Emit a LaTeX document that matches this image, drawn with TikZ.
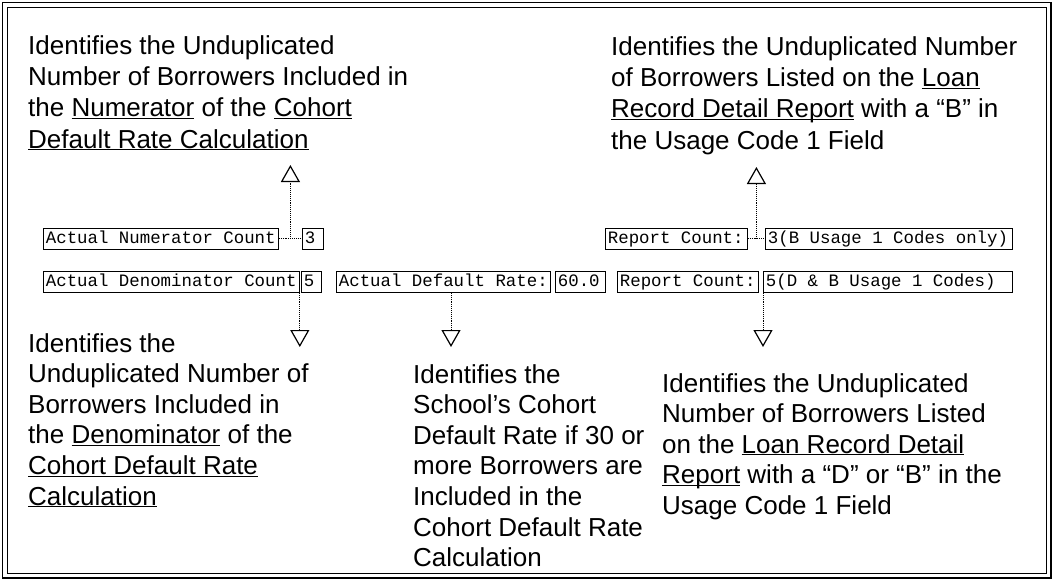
\documentclass[tikz,border=0pt]{standalone}
\usepackage{fontspec}
\setmainfont{Liberation Sans}
\newfontfamily\monof[WordSpace={1,0,0}]{Liberation Mono}
\usetikzlibrary{arrows.meta,calc}
\newcommand{\ulx}[1]{\underline{\smash{#1}}}
\begin{document}
\begin{tikzpicture}[x=1pt,y=-1pt,
  note/.style={anchor=north west, inner sep=0pt, align=left, font=\fontsize{26}{31.4}\selectfont},
  noteb/.style={anchor=north west, inner sep=0pt, align=left, font=\fontsize{26}{30.6}\selectfont},
  field/.style={draw, line width=0.8pt, anchor=west, inner xsep=2.5pt, inner ysep=0pt,
    minimum height=21pt, text height=12pt, text depth=3pt,
    font=\monof\fontsize{17.4}{20}\selectfont, align=left, text width=#1,
    execute at begin node={\spaceskip=10.44pt\relax}},
  conn/.style={densely dotted, line width=0.9pt},
  tipup/.style={-{Triangle[open, length=17pt, width=19pt, line width=1.2pt]}}
]
\useasboundingbox (0,0) rectangle (1054,582);
\fill[white] (0,0) rectangle (1054,582);
% frame
\draw[line width=1.2pt] (2.5,2.5) rectangle (1051,578);
\draw[line width=1pt] (7,7) rectangle (1046,573);

% notes
\node[note] (tl) at (28,35) {Identifies the Unduplicated\\Number of Borrowers Included in\\the \ulx{Numerator} of the \ulx{Cohort}\\\ulx{Default Rate Calculation}};
\node[note] (tr) at (611,36) {Identifies the Unduplicated Number\\of Borrowers Listed on the \ulx{Loan}\\\ulx{Record Detail Report} with a “B” in\\the Usage Code 1 Field};
\node[noteb] (bl) at (28,333) {Identifies the\\Unduplicated Number of\\Borrowers Included in\\the \ulx{Denominator} of the\\\ulx{Cohort Default Rate}\\\ulx{Calculation}};
\node[noteb] (bm) at (413,364) {Identifies the\\School’s Cohort\\Default Rate if 30 or\\more Borrowers are\\Included in the\\Cohort Default Rate\\Calculation};
\node[noteb] (br) at (662,373) {Identifies the Unduplicated\\Number of Borrowers Listed\\on the \ulx{Loan Record Detail}\\\ulx{Report} with a “D” or “B” in the\\Usage Code 1 Field};

% row 1 fields
\node[field=230pt] (nc) at (43,238.5) {Actual Numerator Count};
\node[field=16pt] (n3) at (302,238.5) {3};
\node[field=137pt] (rc1) at (605,238.5) {Report Count:};
\node[field=242pt] (rb1) at (765,238.5) {3(B Usage 1 Codes only)};
% row 2 fields
\node[field=251pt] (dc) at (43,282) {Actual Denominator Count};
\node[field=15pt] (d5) at (301,282) {5};
\node[field=209pt] (ar) at (336,282) {Actual Default Rate:};
\node[field=45pt] (r60) at (555,282) {60.0};
\node[field=136pt] (rc2) at (617,282) {Report Count:};
\node[field=244pt] (rb2) at (763,282) {5(D \& B Usage 1 Codes)};

% helper coordinates
\coordinate (j1) at ($(nc.east)!0.5!(n3.west)$);
\coordinate (j2) at ($(rc1.east)!0.5!(rb1.west)$);
\coordinate (up1) at (0,165);
\coordinate (up2) at (0,167);
\coordinate (dn) at (0,347);
\coordinate (km) at (451,0);

% connectors
\draw[conn] (nc.east) -- (n3.west);
\draw[conn,tipup] (j1) -- (j1 |- up1);
\draw[conn] (rc1.east) -- (rb1.west);
\draw[conn,tipup] (j2) -- (j2 |- up2);
\draw[conn,tipup] (dc.south east) -- (dc.south east |- dn);
\draw[conn,tipup] (km |- ar.south) -- (km |- dn);
\draw[conn,tipup] (rb2.south west) -- (rb2.south west |- dn);
\end{tikzpicture}
\end{document}
